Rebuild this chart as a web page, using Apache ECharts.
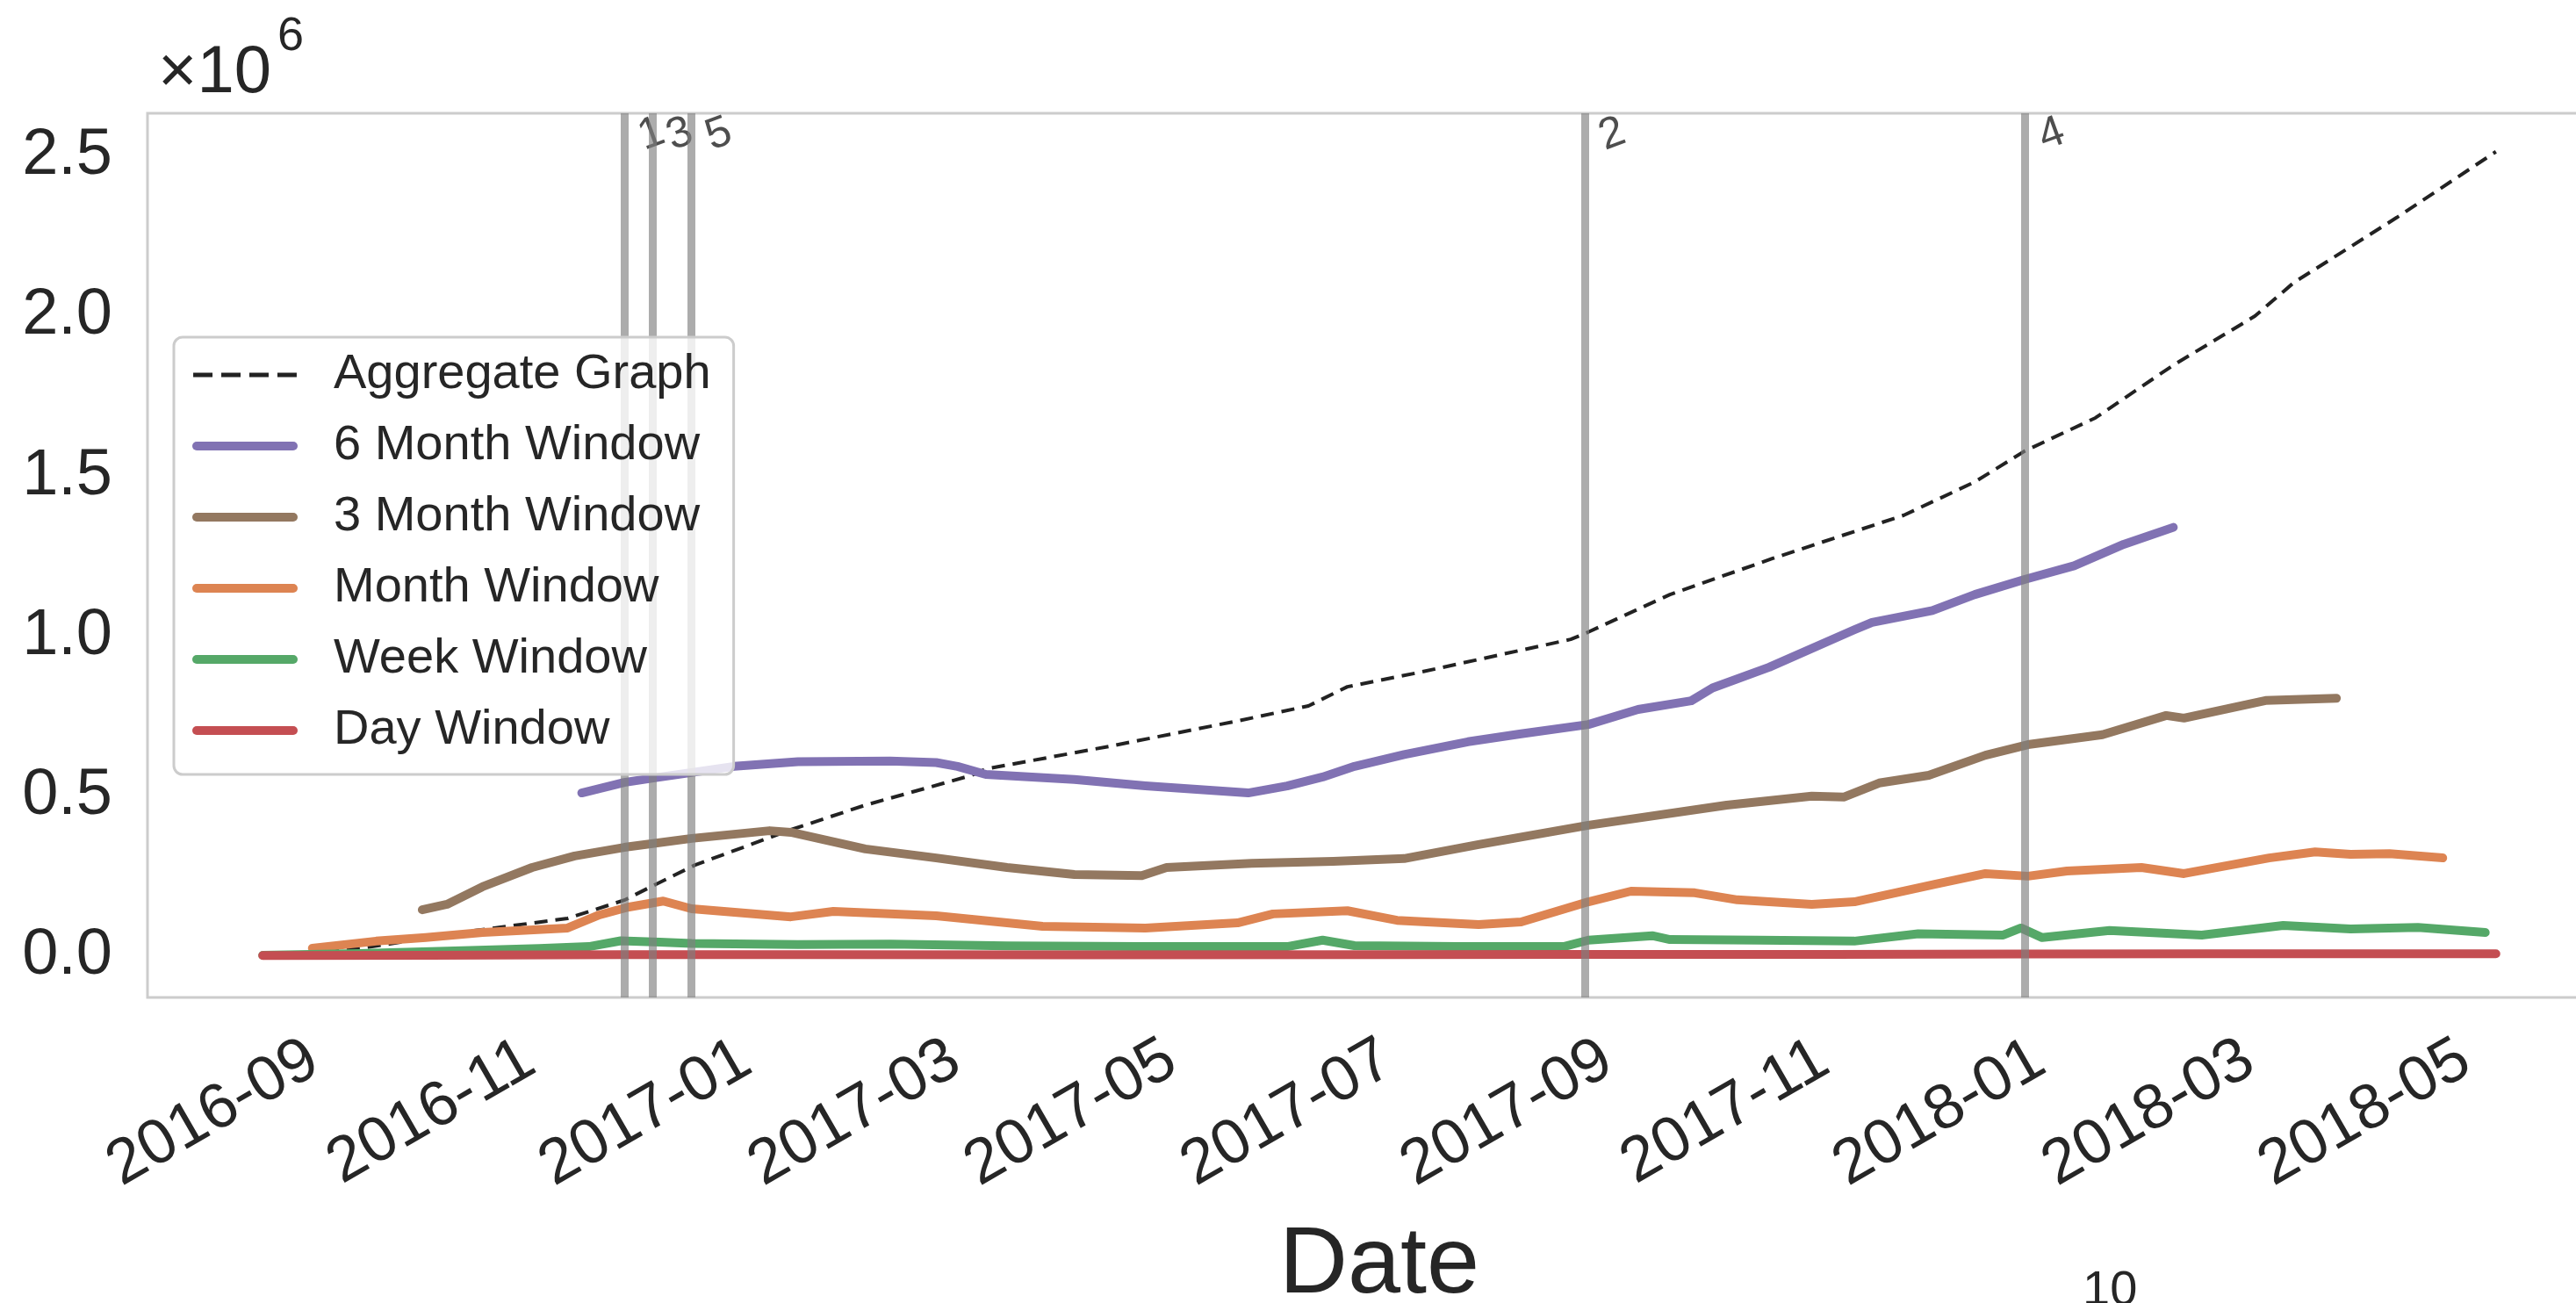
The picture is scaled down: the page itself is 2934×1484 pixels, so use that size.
<!DOCTYPE html>
<html>
<head>
<meta charset="utf-8">
<script src="https://cdn.jsdelivr.net/npm/echarts@6/dist/echarts.min.js"></script>
<style>
html,body{margin:0;padding:0;background:#ffffff;}
#chart{width:2934px;height:1484px;}
</style>
</head>
<body>
<div id="chart"></div>
<script>
// ---------- data ----------
const seriesNames = ['Aggregate Graph','6 Month Window','3 Month Window','Month Window','Week Window','Day Window'];
const seriesColors = ['#222222','#8172B3','#937860','#DD8452','#55A868','#C44E52'];

const xTickLabels = ['2016-09','2016-11','2017-01','2017-03','2017-05','2017-07','2017-09','2017-11','2018-01','2018-03','2018-05'];
const yTickValues = [0, 500000, 1000000, 1500000, 2000000, 2500000];

const eventLabels = ['1','3','5','2','4'];
const eventDates  = ['2016-11-25','2016-12-03','2016-12-14','2017-08-23','2017-12-25'];

const aggDates = ['2016-08-15','2016-09-12','2016-10-14','2016-11-09','2016-11-25','2016-12-04','2016-12-15','2017-01-11','2017-02-01','2017-03-03','2017-03-07','2017-04-11','2017-05-17','2017-06-06','2017-06-17','2017-07-07','2017-08-19','2017-08-24','2017-09-16','2017-10-15','2017-11-21','2017-12-11','2017-12-25','2018-01-14','2018-02-05','2018-02-28','2018-03-11','2018-04-09','2018-05-07'];
const aggValues = [0,25000,80000,118000,175000,225000,285000,395000,472000,565000,585000,656000,735000,782000,842000,886000,990000,1013000,1130000,1243000,1378000,1482000,1578000,1682000,1847000,2000000,2105000,2308000,2514000];

const m6Dates = ['2016-11-13','2016-11-25','2016-12-04','2016-12-26','2017-01-13','2017-02-08','2017-02-21','2017-02-27','2017-03-07','2017-04-01','2017-04-21','2017-05-20','2017-05-31','2017-06-10','2017-06-19','2017-07-03','2017-07-21','2017-08-05','2017-08-24','2017-09-07','2017-09-22','2017-09-28','2017-10-14','2017-11-07','2017-11-12','2017-11-29','2017-12-11','2017-12-25','2018-01-08','2018-01-22','2018-02-05'];
const m6Values = [510000,543000,558000,593000,608000,610000,605000,593000,568000,552000,532000,510000,532000,560000,593000,630000,670000,695000,724000,771000,798000,838000,903000,1020000,1043000,1080000,1130000,1177000,1220000,1287000,1340000];

const m3Dates = ['2016-09-29','2016-10-06','2016-10-16','2016-10-30','2016-11-11','2016-11-25','2016-12-14','2017-01-05','2017-01-11','2017-02-01','2017-02-21','2017-03-13','2017-04-01','2017-04-20','2017-04-27','2017-05-21','2017-06-13','2017-07-03','2017-07-24','2017-08-24','2017-10-02','2017-10-26','2017-11-04','2017-11-14','2017-11-28','2017-12-14','2017-12-26','2018-01-16','2018-02-03','2018-02-08','2018-03-03','2018-03-23'];
const m3Values = [145000,162000,217000,277000,313000,340000,368000,392000,387000,335000,307000,277000,255000,252000,277000,290000,296000,305000,349000,409000,472000,500000,497000,541000,565000,628000,661000,692000,752000,744000,799000,806000];

const m1Dates = ['2016-08-29','2016-09-16','2016-09-30','2016-10-16','2016-11-09','2016-11-18','2016-11-26','2016-12-06','2016-12-14','2017-01-11','2017-01-23','2017-02-21','2017-03-23','2017-04-21','2017-05-17','2017-05-27','2017-06-17','2017-07-01','2017-07-24','2017-08-05','2017-08-24','2017-09-05','2017-09-23','2017-10-05','2017-10-26','2017-11-07','2017-11-30','2017-12-14','2017-12-26','2018-01-06','2018-01-27','2018-02-08','2018-03-04','2018-03-17','2018-03-27','2018-04-07','2018-04-22'];
const m1Values = [25000,47000,58000,74000,88000,129000,153000,172000,148000,123000,140000,126000,93000,88000,104000,132000,142000,112000,99000,107000,170000,203000,198000,176000,162000,170000,225000,258000,250000,266000,277000,258000,307000,326000,318000,320000,307000];

const wkDates = ['2016-08-15','2016-09-11','2016-10-06','2016-11-01','2016-11-15','2016-11-24','2016-12-05','2016-12-14','2017-01-13','2017-02-08','2017-03-13','2017-04-19','2017-05-31','2017-06-10','2017-06-19','2017-07-18','2017-08-17','2017-08-24','2017-09-11','2017-09-16','2017-10-11','2017-11-07','2017-11-25','2017-12-19','2017-12-24','2017-12-30','2018-01-18','2018-02-13','2018-03-08','2018-03-27','2018-04-15','2018-05-04'];
const wkValues = [3000,8000,16000,24000,30000,48000,44000,40000,36000,38000,32000,30000,30000,50000,33000,30000,30000,50000,64000,52000,50000,47000,70000,66000,88000,58000,80000,66000,96000,85000,90000,74000];

const dyDates = ['2016-08-15','2016-10-01','2016-11-25','2017-01-15','2017-04-01','2017-07-01','2017-08-24','2017-11-01','2017-12-25','2018-02-15','2018-05-07'];
const dyValues = [2000,3000,5000,4500,4000,4500,5500,5500,7000,7500,7500];

// ---------- helpers ----------
function toTs(s){ const p = s.split('-').map(Number); return Date.UTC(p[0], (p[1]||1)-1, p[2]||1); }
function pairs(d, v){ return d.map((s,i)=>[toTs(s), v[i]]); }
const DAY = 86400000;
const xTickValues = xTickLabels.map(s => toTs(s + '-01'));

const seriesDates  = [aggDates, m6Dates, m3Dates, m1Dates, wkDates, dyDates];
const seriesValues = [aggValues, m6Values, m3Values, m1Values, wkValues, dyValues];

const FONT = '"Liberation Sans", Arial, Helvetica, sans-serif';
const TXT = '#262626';
const Y_MIN = -129000, Y_MAX = 2634000;

// legend handle shapes (120 x 10 box)
const ICON_SOLID = 'path://M5,0h110a5,5 0 0 1 0,10h-110a5,5 0 0 1 0,-10z';
const ICON_DASH  = 'path://M0,0h0.01v0.01h-0.01z M0,10h0.01v0.01h-0.01z M0,2.5h22v5h-22z M32,2.5h22v5h-22z M64,2.5h22v5h-22z M96,2.5h22v5h-22z';

const lineSeries = seriesNames.map((name, i) => ({
  name: name,
  type: 'line',
  data: pairs(seriesDates[i], seriesValues[i]),
  showSymbol: false,
  symbol: 'none',
  silent: true,
  z: 2,
  lineStyle: i === 0
    ? { color: seriesColors[i], width: 4, type: [15, 9], cap: 'butt' }
    : { color: seriesColors[i], width: 10, cap: 'round', join: 'round' },
  itemStyle: { color: seriesColors[i] }
}));

const eventSeries = {
  name: 'events',
  type: 'scatter',
  silent: true,
  z: 3,
  symbol: 'circle',
  symbolSize: 1,
  itemStyle: { color: 'rgba(0,0,0,0)' },
  data: eventDates.map(d => [toTs(d), Y_MAX]),
  label: {
    show: true,
    formatter: p => eventLabels[p.dataIndex],
    position: [10, 6],
    rotate: 20,
    fontSize: 50,
    fontFamily: FONT,
    color: '#222222'
  },
  markLine: {
    silent: true,
    symbol: ['none','none'],
    label: { show: false },
    lineStyle: { color: 'rgba(128,128,128,0.65)', width: 9, type: 'solid' },
    emphasis: { disabled: true },
    data: eventDates.map(d => ({ xAxis: toTs(d) }))
  }
};

const chart = echarts.init(document.getElementById('chart'), null, { renderer: 'canvas' });
chart.setOption({
  animation: false,
  backgroundColor: '#ffffff',
  textStyle: { fontFamily: FONT },
  grid: {
    left: 168, top: 129, right: -40, bottom: 348,
    show: true, borderColor: '#cccccc', borderWidth: 3,
    containLabel: false, outerBoundsMode: 'none'
  },
  xAxis: {
    type: 'value',
    min: toTs('2016-07-13') + DAY / 2,
    max: toTs('2018-06-08') + DAY / 2,
    axisLine: { show: false },
    axisTick: { show: false },
    splitLine: { show: false },
    axisLabel: {
      customValues: xTickValues,
      formatter: v => { const i = xTickValues.indexOf(v); return i >= 0 ? xTickLabels[i] : ''; },
      rotate: 30,
      fontSize: 72,
      color: TXT,
      margin: 60,
      padding: [0, 12, 0, 0],
      fontFamily: FONT
    },
    name: 'Date',
    nameLocation: 'middle',
    nameGap: 252,
    nameTextStyle: { fontSize: 108, color: TXT, fontFamily: FONT }
  },
  yAxis: {
    type: 'value',
    min: Y_MIN, max: Y_MAX,
    axisLine: { show: false },
    axisTick: { show: false },
    splitLine: { show: false },
    axisLabel: {
      customValues: yTickValues,
      formatter: v => (v / 1e6).toFixed(1),
      fontSize: 74,
      color: TXT,
      margin: 40,
      fontFamily: FONT
    }
  },
  legend: {
    data: seriesNames.map((n, i) => ({ name: n, icon: i === 0 ? ICON_DASH : ICON_SOLID })),
    orient: 'vertical',
    left: 198, top: 384,
    itemWidth: 120, itemHeight: 10, itemGap: 19,
    padding: [12, 26, 19, 21],
    backgroundColor: 'rgba(255,255,255,0.8)',
    borderColor: '#cccccc', borderWidth: 3, borderRadius: 10,
    selectedMode: false,
    textStyle: { fontSize: 56, color: TXT, lineHeight: 62, fontFamily: FONT, padding: [0, 0, 0, 36] },
    z: 10
  },
  graphic: [
    { type: 'text', x: 180, y: 84, style: { text: '×10', fill: TXT, font: '76px ' + FONT, verticalAlign: 'middle' } },
    { type: 'text', x: 316, y: 42, style: { text: '6', fill: TXT, font: '54px ' + FONT, verticalAlign: 'middle' } },
    { type: 'text', x: 2372, y: 1443, style: { text: '10', fill: TXT, font: '56px ' + FONT, verticalAlign: 'top' } }
  ],
  series: lineSeries.concat([eventSeries])
});
</script>
</body>
</html>
